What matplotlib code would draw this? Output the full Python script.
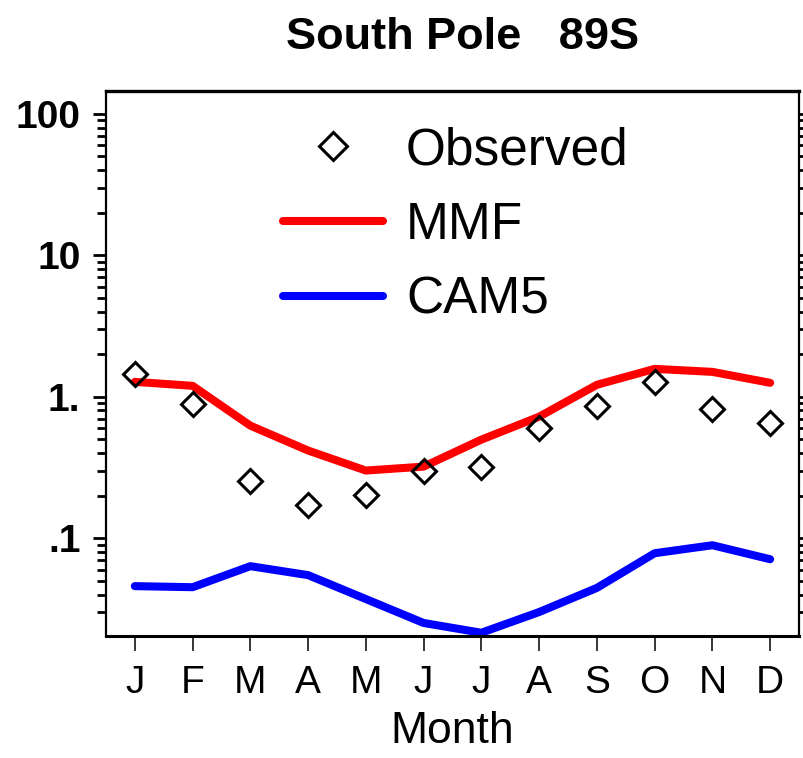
import matplotlib
matplotlib.use("Agg")
import matplotlib.pyplot as plt
from matplotlib.ticker import FixedLocator, FixedFormatter, LogLocator, NullFormatter

months = ["J", "F", "M", "A", "M", "J", "J", "A", "S", "O", "N", "D"]
month_idx = list(range(1, 13))
observed = [1.45, 0.89, 0.252, 0.171, 0.201, 0.301, 0.321, 0.605, 0.86, 1.275, 0.82, 0.656]
mmf = [1.275, 1.195, 0.625, 0.417, 0.301, 0.321, 0.498, 0.723, 1.215, 1.575, 1.50, 1.255]
cam5 = [0.0459, 0.0451, 0.0635, 0.0549, 0.0372, 0.0252, 0.0215, 0.0301, 0.0446, 0.0784, 0.0893, 0.0711]
ytick_vals = [0.1, 1, 10, 100]
ytick_labels = [".1", "1.", "10", "100"]

plain = ["Liberation Sans", "DejaVu Sans"]

fig = plt.figure(figsize=(8.04, 7.58), dpi=100)
ax = fig.add_axes([0.1318, 0.161, 0.862, 0.719])

ax.plot(month_idx, mmf, color="#ff0000", lw=5.8, solid_capstyle="round", label="MMF", zorder=2)
ax.plot(month_idx, cam5, color="#0000ff", lw=5.8, solid_capstyle="round", label="CAM5", zorder=2)
ax.plot(month_idx, observed, linestyle="none", marker="D", ms=12.5, mfc="none",
        mec="black", mew=2.2, label="Observed", zorder=3)

ax.set_yscale("log")
ax.set_ylim(0.0204, 145)
ax.set_xlim(0.5, 12.5)

ax.yaxis.set_major_locator(FixedLocator(ytick_vals))
ax.yaxis.set_major_formatter(FixedFormatter(ytick_labels))
ax.yaxis.set_minor_locator(LogLocator(base=10, subs=[2, 3, 4, 5, 6, 7, 8, 9], numticks=20))
ax.yaxis.set_minor_formatter(NullFormatter())

ax.set_xticks(month_idx)
ax.set_xticklabels(months)

for lab in ax.get_yticklabels():
    lab.set_family(plain)
    lab.set_fontweight("bold")
    lab.set_fontsize(28)
for lab in ax.get_xticklabels():
    lab.set_family(plain)
    lab.set_fontsize(28)

ax.tick_params(axis="y", which="major", direction="out", length=9.4, width=2.0,
               left=True, right=True, pad=9)
ax.tick_params(axis="y", which="minor", direction="out", length=6.5, width=2.0,
               left=True, right=True)
ax.tick_params(axis="x", which="major", direction="out", length=11, width=1.1,
               bottom=True, top=False, pad=10)
ax.tick_params(axis="x", which="minor", bottom=False, top=False)

ax.spines["top"].set_linewidth(2.4)
ax.spines["bottom"].set_linewidth(2.2)
ax.spines["left"].set_linewidth(1.6)
ax.spines["right"].set_linewidth(1.6)

ax.set_xlabel("Month", family=plain, fontsize=32, labelpad=7)
ax.set_title("South Pole   89S", family=plain, fontweight="bold", fontsize=32.5, pad=30, x=0.514)

h = ax.get_legend_handles_labels()[0]
handles = [h[2], h[0], h[1]]
labels = ["Observed", "MMF", "CAM5"]
leg = ax.legend(handles, labels, loc="upper left", bbox_to_anchor=(0.255, 0.935),
                frameon=False, prop={"family": plain, "size": 37},
                handlelength=1.95, handletextpad=0.45, labelspacing=0.5,
                borderpad=0, borderaxespad=0, markerscale=1.15)

fig.savefig("out.png", dpi=100)
